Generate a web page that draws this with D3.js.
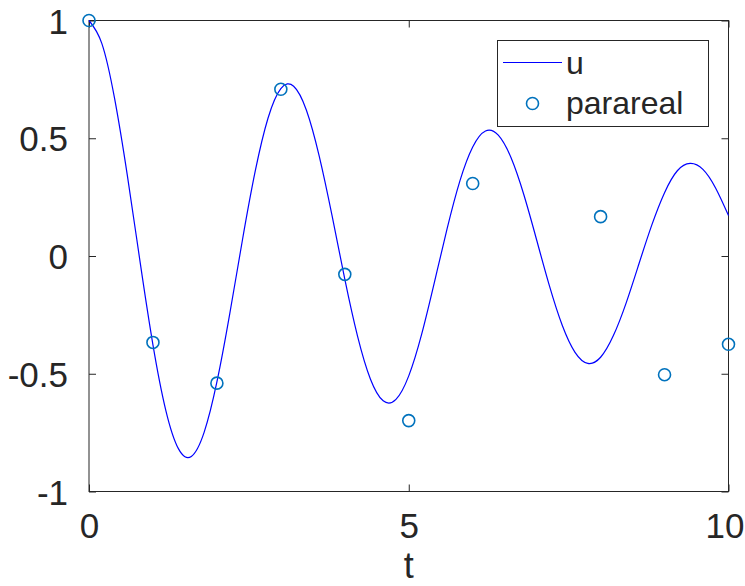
<!DOCTYPE html>
<html>
<head>
<meta charset="utf-8">
<script src="https://cdn.jsdelivr.net/npm/d3@7"></script>
<style>
  html, body { margin: 0; padding: 0; background: #fff; }
  svg { display: block; }
  text { font-family: "Liberation Sans", Arial, sans-serif; fill: #262626; }
</style>
</head>
<body>
<svg id="chart" width="745" height="586"></svg>
<script>
// ---- data ----
const uTimes = [0,0.2,0.4,0.6,0.8,1,1.2,1.4,1.6,1.8,2,2.2,2.4,2.6,2.8,3,3.2,3.4,3.6,3.8,4,
  4.2,4.4,4.6,4.8,5,5.2,5.4,5.6,5.8,6,6.2,6.4,6.6,6.8,7,7.2,7.4,7.6,7.8,8,
  8.2,8.4,8.6,8.8,9,9.2,9.4,9.6,9.8,10];
const uValues = [1.000,0.903,0.669,0.341,-0.027,-0.377,-0.654,-0.819,-0.851,-0.749,-0.535,
  -0.247,0.069,0.361,0.586,0.711,0.721,0.619,0.424,0.172,-0.098,
  -0.341,-0.522,-0.615,-0.609,-0.509,-0.334,-0.113,0.116,0.319,0.463,
  0.531,0.513,0.417,0.260,0.068,-0.127,-0.294,-0.409,-0.456,-0.430,
  -0.338,-0.199,-0.033,0.131,0.269,0.362,0.393,0.368,0.288,0.172];
const pararealTimes = [0,1,2,3,4,5,6,8,9,10];
const pararealValues = [1.0,-0.367,-0.540,0.708,-0.078,-0.699,0.308,0.167,-0.504,-0.375];
const xTicks = [0,5,10];
const yTicks = [-1,-0.5,0,0.5,1];
const legendLabels = ["u","parareal"];
const xLabel = "t";

// ---- layout ----
const svg = d3.select("#chart");
const L = 89, R = 728.5, T = 20.5, B = 491.5;
const x = d3.scaleLinear().domain([0,10]).range([L,R]);
const y = d3.scaleLinear().domain([-1,1]).range([B,T]);
const axisColor = "#262626";
const tickLen = 7;
const font = "'Liberation Sans', Arial, sans-serif";

// axes box
svg.append("rect").attr("x",L).attr("y",T).attr("width",R-L).attr("height",B-T)
  .attr("fill","none").attr("stroke",axisColor).attr("stroke-width",1);

// y axis (left, inward ticks) and right mirrored ticks
const yAxisL = d3.axisLeft(y).tickValues(yTicks).tickSizeInner(-tickLen).tickSizeOuter(0)
  .tickPadding(21).tickFormat(d => String(d));
const gy = svg.append("g").attr("transform",`translate(${L},0)`).call(yAxisL);
const yAxisR = d3.axisRight(y).tickValues(yTicks).tickSizeInner(-tickLen).tickSizeOuter(0).tickFormat("");
const gyr = svg.append("g").attr("transform",`translate(${R},0)`).call(yAxisR);

// x axis (bottom, inward ticks) and top mirrored ticks
const xAxisB = d3.axisBottom(x).tickValues(xTicks).tickSizeInner(-tickLen).tickSizeOuter(0)
  .tickPadding(0).tickFormat(d => String(d));
const gx = svg.append("g").attr("transform",`translate(0,${B})`).call(xAxisB);
const xAxisT = d3.axisTop(x).tickValues(xTicks).tickSizeInner(-tickLen).tickSizeOuter(0).tickFormat("");
const gxt = svg.append("g").attr("transform",`translate(0,${T})`).call(xAxisT);

[gy,gyr,gx,gxt].forEach(g => {
  g.select(".domain").remove();
  g.selectAll(".tick line").attr("stroke",axisColor).attr("stroke-width",1);
});
gy.selectAll(".tick text").attr("font-size",35).attr("fill",axisColor)
  .attr("font-family",font).attr("dy","0.36em");
gx.selectAll(".tick text").attr("font-size",35).attr("fill",axisColor)
  .attr("font-family",font).attr("dy",null).attr("y",46);
// keep the last x tick label inside the page, as in the reference
gx.selectAll(".tick text").filter(d => d === xTicks[xTicks.length-1])
  .attr("text-anchor","end").attr("x", 745 - x(xTicks[xTicks.length-1]) - 1);

// x label
svg.append("text").attr("x",(L+R)/2).attr("y",578).attr("text-anchor","middle")
  .attr("font-size",36).text(xLabel);

// curve
const uData = uTimes.map((t,i)=>({t, v:uValues[i]}));
svg.append("path").datum(uData)
  .attr("fill","none").attr("stroke","#0000ff").attr("stroke-width",1.2)
  .attr("d", d3.line().x(d=>x(d.t)).y(d=>y(d.v)).curve(d3.curveNatural));

// parareal markers
const pData = pararealTimes.map((t,i)=>({t, v:pararealValues[i]}));
svg.append("g").selectAll("circle").data(pData).join("circle")
  .attr("cx",d=>x(d.t)).attr("cy",d=>y(d.v)).attr("r",6)
  .attr("fill","none").attr("stroke","#0072bd").attr("stroke-width",1.6);

// legend
const lg = svg.append("g");
lg.append("rect").attr("x",497.5).attr("y",40.5).attr("width",211).attr("height",86)
  .attr("fill","#fff").attr("stroke",axisColor).attr("stroke-width",1);
lg.append("line").attr("x1",503).attr("x2",562).attr("y1",62.5).attr("y2",62.5)
  .attr("stroke","#0000ff").attr("stroke-width",1.2);
lg.append("circle").attr("cx",532.5).attr("cy",103.5).attr("r",6)
  .attr("fill","none").attr("stroke","#0072bd").attr("stroke-width",1.6);
lg.append("text").attr("x",566).attr("y",74).attr("font-size",32).text(legendLabels[0]);
lg.append("text").attr("x",566).attr("y",114).attr("font-size",32).text(legendLabels[1]);
</script>
</body>
</html>
